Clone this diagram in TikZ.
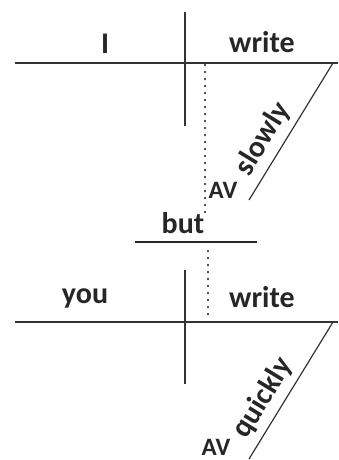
\documentclass[tikz,border=0pt]{standalone}
\usepackage{fontspec}
\setmainfont{Carlito}[BoldFont={Carlito Bold}]
\begin{document}
\begin{tikzpicture}[x=1pt,y=-1pt,
  rule/.style={line width=1.2pt, black!80},
  thick rule/.style={line width=2.2pt, black!85},
  dotline/.style={line width=2.6pt, dash pattern=on 0.05pt off 6.95pt, line cap=round, black!90},
  word/.style={font=\fontsize{30}{34}\selectfont\bfseries, text=black!85, inner sep=0pt},
  small/.style={font=\fontsize{25}{29}\selectfont\bfseries, text=black!85, inner sep=0pt}]
\useasboundingbox (0,0) rectangle (338,460);
% top clause
\coordinate (t1) at (15,63);
\coordinate (t2) at (338,63);
\coordinate (tv1) at (185,12);
\coordinate (tv2) at (185,126);
\coordinate (td1) at (333,63);
\coordinate (td2) at (249,200);
\draw[rule] (t1) -- (t2);
\draw[rule] (tv1) -- (tv2);
\draw[rule] (td1) -- (td2);
\node[word] (I) at (105,44) {I};
\node[word] (w1) at (262,42) {write};
\node[word, rotate=58.5] (slowly) at (263,139) {slowly};
\node[small] (av1) at (223,190) {AV};
% conjunction
\coordinate (b1) at (135,242);
\coordinate (b2) at (257,242);
\draw[thick rule] (b1) -- (b2);
\node[word] (but) at (183,223) {but};
% bottom clause
\coordinate (u1) at (15,322);
\coordinate (u2) at (338,322);
\coordinate (uv1) at (185,270);
\coordinate (uv2) at (185,384);
\coordinate (ud1) at (333,322);
\coordinate (ud2) at (249,459);
\draw[rule] (u1) -- (u2);
\draw[rule] (uv1) -- (uv2);
\draw[rule] (ud1) -- (ud2);
\node[word] (you) at (85,298) {you};
\node[word] (w2) at (262,297) {write};
\node[word, rotate=58.5] (quickly) at (263,398) {quickly};
\node[small] (av2) at (216,447) {AV};
% dotted connectors
\coordinate (d1) at (205,65);
\coordinate (d2) at (205,213);
\coordinate (d3) at (208,251);
\coordinate (d4) at (208,318);
\draw[dotline] (d1) -- (d2);
\draw[dotline] (d3) -- (d4);
\end{tikzpicture}
\end{document}
